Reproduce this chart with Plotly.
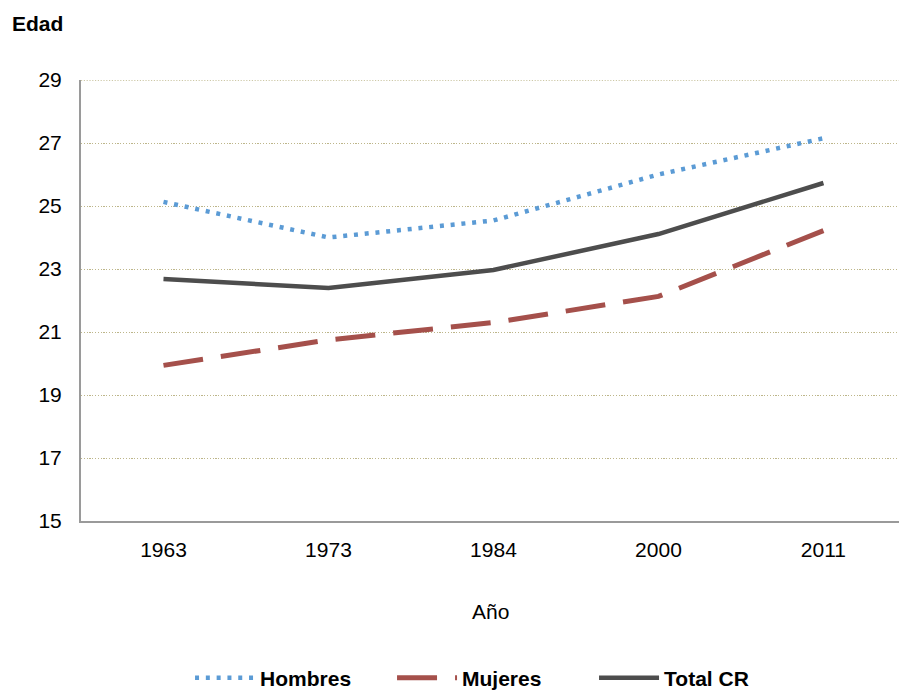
import plotly.graph_objects as go

# Edad media por sexo según año censal
years = ["1963", "1973", "1984", "2000", "2011"]
hombres = [25.13, 24.0, 24.54, 26.0, 27.15]
mujeres = [19.94, 20.75, 21.3, 22.13, 24.22]
total_cr = [22.68, 22.4, 22.97, 24.11, 25.73]

y_ticks = [15, 17, 19, 21, 23, 25, 27, 29]

FONT = "Liberation Sans, Arial, sans-serif"
GRID_COLOR = "#BDB68A"

fig = go.Figure()
fig.add_trace(go.Scatter(
    x=years, y=hombres, mode="lines", name="<b>Hombres</b>",
    line=dict(color="#5B9BD5", width=4.5, dash="4px,6.8px"),
))
fig.add_trace(go.Scatter(
    x=years, y=mujeres, mode="lines", name="<b>Mujeres</b>",
    line=dict(color="#A5504B", width=5, dash="40px,18px"),
))
fig.add_trace(go.Scatter(
    x=years, y=total_cr, mode="lines", name="<b>Total CR</b>",
    line=dict(color="#4D4D4D", width=4.5),
))

# top gridline sits on the range edge, where Plotly clips grid lines
fig.add_shape(
    type="line", xref="paper", yref="y", x0=0, x1=1, y0=y_ticks[-1], y1=y_ticks[-1],
    line=dict(color=GRID_COLOR, width=1.4, dash="1.2px,1.6px"), layer="below",
)

fig.update_layout(
    width=899, height=690,
    margin=dict(l=81, r=0, t=80, b=169, autoexpand=False),
    paper_bgcolor="white", plot_bgcolor="white",
    font=dict(family=FONT, size=21, color="#000000"),
    showlegend=True,
    legend=dict(
        orientation="h", x=0.1333, xanchor="left",
        y=-0.356, yanchor="middle",
        font=dict(family=FONT, size=21, color="#000000"),
        itemwidth=60, entrywidth=127, entrywidthmode="pixels",
        bgcolor="rgba(0,0,0,0)",
    ),
    xaxis=dict(
        type="category", range=[-0.5, 4.458],
        showline=True, linecolor="#9A9A9A", linewidth=2,
        showgrid=False, zeroline=False, ticks="",
        ticklabelstandoff=9,
        tickfont=dict(family=FONT, size=21, color="#000000"),
    ),
    yaxis=dict(
        range=[15, 29], tickvals=y_ticks,
        showline=True, linecolor="#9A9A9A", linewidth=2,
        showgrid=True, gridcolor=GRID_COLOR, gridwidth=1.4, griddash="1.2px,1.6px",
        zeroline=False, ticks="",
        ticklabelstandoff=13,
        tickfont=dict(family=FONT, size=21, color="#000000"),
    ),
    annotations=[
        dict(text="<b>Edad</b>", xref="paper", yref="paper",
             x=-0.0865, y=1.127, xanchor="left", yanchor="middle",
             showarrow=False, font=dict(family=FONT, size=21, color="#000000")),
        dict(text="Año", xref="paper", yref="paper",
             x=0.5, y=-0.206, xanchor="center", yanchor="middle",
             showarrow=False, font=dict(family=FONT, size=21, color="#000000")),
    ],
)

fig.write_html("out.html")
